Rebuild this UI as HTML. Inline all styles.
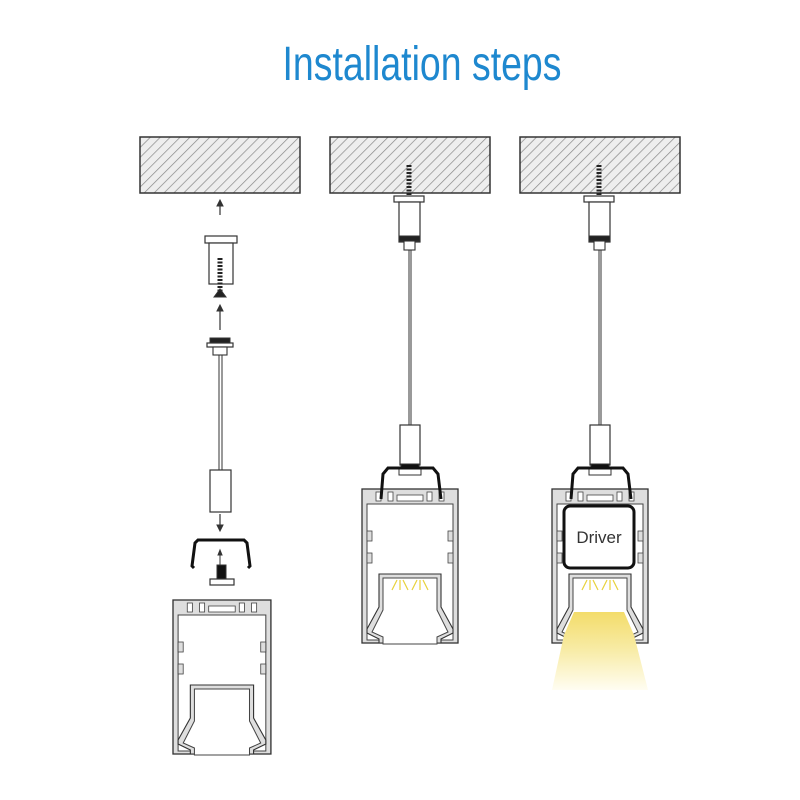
<!DOCTYPE html>
<html><head><meta charset="utf-8"><style>html,body{margin:0;padding:0;background:#fff}svg{display:block}</style></head>
<body>
<svg width="800" height="800" viewBox="0 0 800 800" xmlns="http://www.w3.org/2000/svg">
<defs>
<pattern id="hatch" width="7" height="7" patternUnits="userSpaceOnUse" patternTransform="rotate(45)">
<rect width="7" height="7" fill="#eeeeee"/><line x1="0" y1="0" x2="0" y2="7" stroke="#888" stroke-width="1.4"/>
</pattern>
<linearGradient id="light" x1="0" y1="0" x2="0" y2="1">
<stop offset="0" stop-color="#f3dc6a"/><stop offset="0.5" stop-color="#f8eca8"/><stop offset="1" stop-color="#fffdf2"/>
</linearGradient>
<g id="profile">
<rect x="0" y="0" width="96" height="154" fill="#dedede" stroke="#333" stroke-width="1.3"/>
<rect x="5" y="15" width="86" height="136" fill="#fff" stroke="#444" stroke-width="1"/>
<rect x="14" y="3" width="5" height="9" fill="#fff" stroke="#444" stroke-width="0.8"/>
<rect x="26" y="3" width="5" height="9" fill="#fff" stroke="#444" stroke-width="0.8"/>
<rect x="35" y="6" width="26" height="6" fill="#fff" stroke="#444" stroke-width="0.8"/>
<rect x="65" y="3" width="5" height="9" fill="#fff" stroke="#444" stroke-width="0.8"/>
<rect x="77" y="3" width="5" height="9" fill="#fff" stroke="#444" stroke-width="0.8"/>
<rect x="5" y="42" width="5" height="10" fill="#dedede" stroke="#444" stroke-width="0.8"/>
<rect x="5" y="64" width="5" height="10" fill="#dedede" stroke="#444" stroke-width="0.8"/>
<rect x="86" y="42" width="5" height="10" fill="#dedede" stroke="#444" stroke-width="0.8"/>
<rect x="86" y="64" width="5" height="10" fill="#dedede" stroke="#444" stroke-width="0.8"/>
<path d="M17,154 L17,150 L5,144 L5,140 L17,118 L17,85 L79,85 L79,118 L91,140 L91,144 L79,150 L79,154 Z" fill="#dedede" stroke="#333" stroke-width="1.1"/>
<path d="M21,155 L21,148 L10,143 L21,121 L21,89 L75,89 L75,121 L86,143 L75,148 L75,155 Z" fill="#fff" stroke="#444" stroke-width="1"/>
</g>
</defs>

<text x="422" y="80" text-anchor="middle" font-family="Liberation Sans, sans-serif" font-size="48" fill="#1e88cf" textLength="279" lengthAdjust="spacingAndGlyphs">Installation steps</text>

<rect x="140" y="137" width="160" height="56" fill="url(#hatch)" stroke="#333" stroke-width="1.5"/>
<rect x="330" y="137" width="160" height="56" fill="url(#hatch)" stroke="#333" stroke-width="1.5"/>
<rect x="520" y="137" width="160" height="56" fill="url(#hatch)" stroke="#333" stroke-width="1.5"/>

<g stroke="#333" fill="none">
<line x1="220" y1="215" x2="220" y2="203" stroke-width="1.2"/>
<path d="M217,206 L220,200 L223,206 Z" fill="#333"/>
<rect x="205" y="236" width="32" height="7" fill="#fff" stroke-width="1.2"/>
<rect x="209" y="243" width="24" height="41" fill="#fff" stroke-width="1.2"/>
<line x1="220" y1="258" x2="220" y2="292" stroke="#222" stroke-width="5" stroke-dasharray="2 1.5"/>
<path d="M214,297 L220,289 L226,297 Z" fill="#222"/>
<line x1="220" y1="330" x2="220" y2="308" stroke-width="1.2"/>
<path d="M217,311 L220,305 L223,311 Z" fill="#333"/>
<rect x="210" y="338" width="20" height="6" fill="#222"/>
<rect x="207" y="343" width="26" height="4" fill="#fff" stroke-width="1.2"/>
<rect x="213" y="347" width="14" height="8" fill="#fff" stroke-width="1.1"/>
<line x1="219" y1="355" x2="219" y2="470" stroke-width="1"/>
<line x1="222" y1="355" x2="222" y2="470" stroke-width="1"/>
<rect x="210" y="470" width="21" height="42" fill="#fff" stroke-width="1.2"/>
<line x1="220" y1="514" x2="220" y2="527" stroke-width="1.2"/>
<path d="M217,525 L220,531 L223,525 Z" fill="#333"/>
<path d="M194,568 L192,566 L195,543 L198,540 L244,540 L247,543 L250,566 L248,568" stroke="#111" stroke-width="3"/>
<line x1="220" y1="565" x2="220" y2="553" stroke-width="1"/>
<path d="M218,555 L220,550 L222,555 Z" fill="#333"/>
<rect x="217" y="565" width="9" height="14" fill="#111"/>
<rect x="210" y="579" width="24" height="6" fill="#fff" stroke-width="1.2"/>
</g>
<use href="#profile" transform="translate(173,600) scale(1.02,1.0)"/>

<g stroke="#333" fill="none">
<line x1="409" y1="165" x2="409" y2="203" stroke="#222" stroke-width="5" stroke-dasharray="2 1.5"/>
<rect x="394" y="196" width="30" height="6" fill="#fff" stroke-width="1.2"/>
<rect x="399" y="202" width="21" height="40" fill="#fff" stroke-width="1.2"/>
<rect x="399" y="236" width="21" height="5" fill="#222"/>
<rect x="404" y="241" width="11" height="9" fill="#fff" stroke-width="1.1"/>
<line x1="409" y1="250" x2="409" y2="425" stroke-width="1"/>
<line x1="411" y1="250" x2="411" y2="425" stroke-width="1"/>
<rect x="400" y="425" width="20" height="40" fill="#fff" stroke-width="1.2"/>
<rect x="401" y="464" width="18" height="5" fill="#111"/>
<rect x="399" y="469" width="22" height="6" fill="#fff" stroke-width="1"/>
</g>
<use href="#profile" transform="translate(362,489)"/>
<path d="M381,499 L383,474 L388,468 L433,468 L438,474 L441,499" stroke="#111" stroke-width="3" fill="none"/>
<g stroke="#e8d23a" stroke-width="1.2">
<path d="M397,580 L392,590 M400,580 L400,590 M403,580 L408,590 M417,580 L412,590 M420,580 L420,590 M423,580 L428,590"/>
</g>

<g stroke="#333" fill="none">
<line x1="599" y1="165" x2="599" y2="203" stroke="#222" stroke-width="5" stroke-dasharray="2 1.5"/>
<rect x="584" y="196" width="30" height="6" fill="#fff" stroke-width="1.2"/>
<rect x="589" y="202" width="21" height="40" fill="#fff" stroke-width="1.2"/>
<rect x="589" y="236" width="21" height="5" fill="#222"/>
<rect x="594" y="241" width="11" height="9" fill="#fff" stroke-width="1.1"/>
<line x1="599" y1="250" x2="599" y2="425" stroke-width="1"/>
<line x1="601" y1="250" x2="601" y2="425" stroke-width="1"/>
<rect x="590" y="425" width="20" height="40" fill="#fff" stroke-width="1.2"/>
<rect x="591" y="464" width="18" height="5" fill="#111"/>
<rect x="589" y="469" width="22" height="6" fill="#fff" stroke-width="1"/>
</g>
<use href="#profile" transform="translate(552,489)"/>
<path d="M571,499 L573,474 L578,468 L623,468 L628,474 L631,499" stroke="#111" stroke-width="3" fill="none"/>
<rect x="564" y="506" width="70" height="62" rx="6" fill="#fff" stroke="#111" stroke-width="3"/>
<text x="599" y="543" text-anchor="middle" font-family="Liberation Sans, sans-serif" font-size="17" fill="#333">Driver</text>
<path d="M574,612 L624,612 L634,635 L648,690 L552,690 L564,635 Z" fill="url(#light)"/>
<g stroke="#e8d23a" stroke-width="1.2">
<path d="M587,580 L582,590 M590,580 L590,590 M593,580 L598,590 M607,580 L602,590 M610,580 L610,590 M613,580 L618,590"/>
</g>
</svg>
</body></html>
